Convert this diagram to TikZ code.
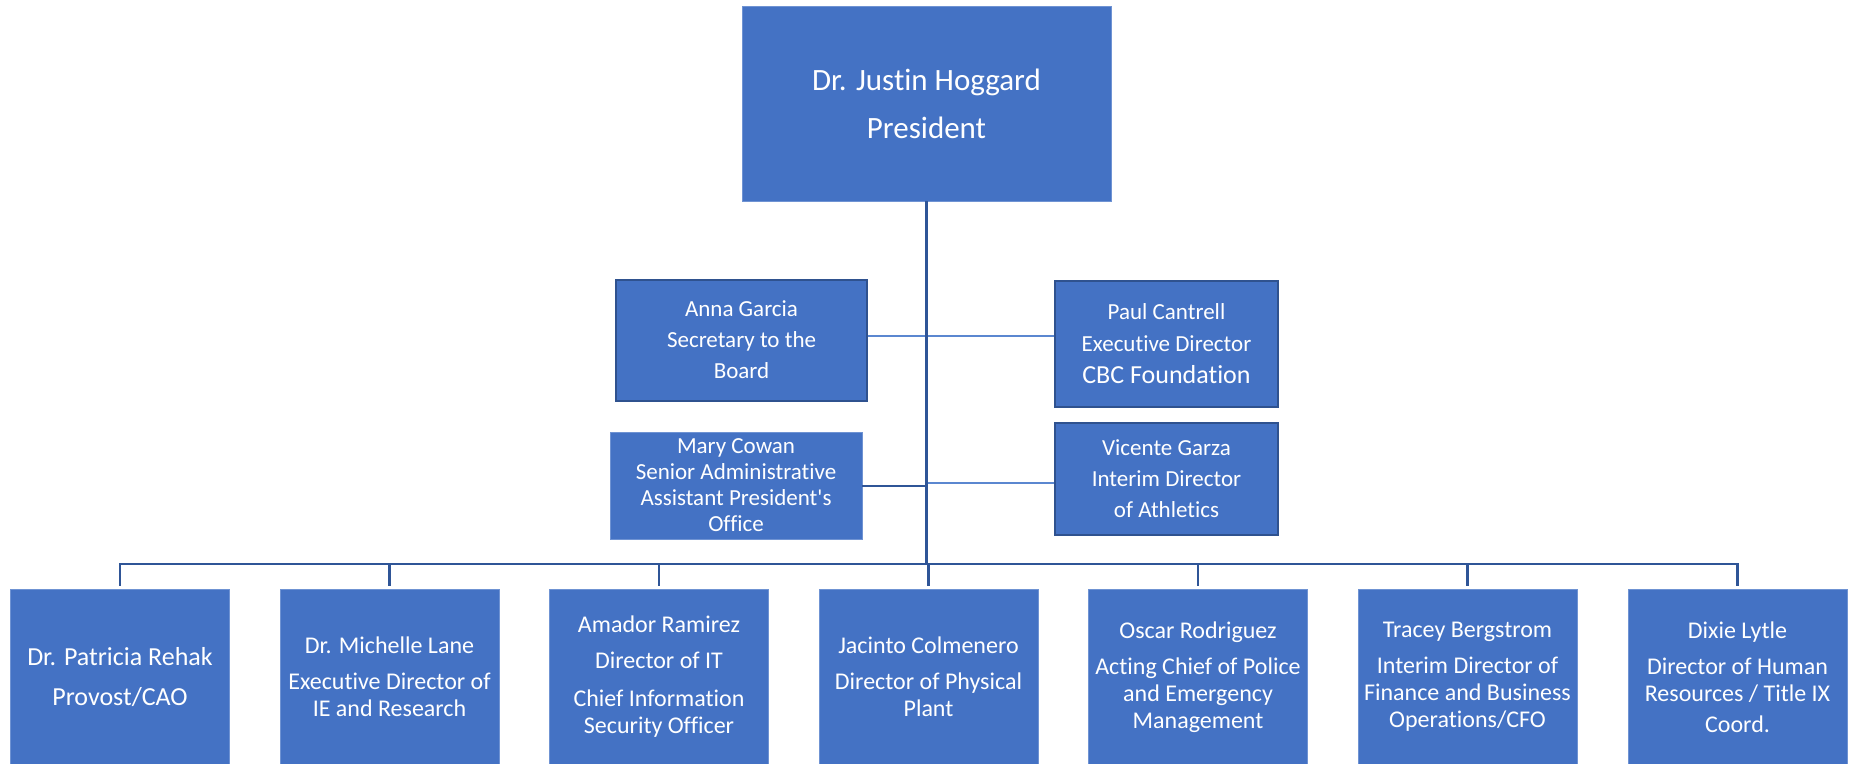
\documentclass[tikz,border=0pt]{standalone}
\usepackage{fontspec}
\setmainfont{Carlito}[Ligatures={NoCommon}]
\newfontfamily\rawcarlito{Carlito}
\definecolor{boxblue}{HTML}{4472C4}
\definecolor{darkedge}{HTML}{2F528F}
\definecolor{lightedge}{HTML}{6F93D3}
\definecolor{linedark}{HTML}{2F5597}
\definecolor{linelight}{HTML}{5B87D0}
\begin{document}
\begin{tikzpicture}[x=1pt,y=-1pt,
  orgbox/.style={draw=lightedge, line width=0.8pt, fill=boxblue, text=white, align=center, inner sep=0pt},
  edgebox/.style={orgbox, draw=darkedge, line width=2pt},
  bottombox/.style={orgbox, minimum width=219pt, minimum height=176pt, font=\fontsize{24}{27}\selectfont},
  trunk/.style={draw=linedark, line width=2.6pt},
  thinline/.style={draw=linelight, line width=1.5pt}
]
\useasboundingbox (0,0) rectangle (1854,763);

\node[orgbox, minimum width=369pt, minimum height=195pt, font=\fontsize{31}{48}\selectfont] (pres) at (926.5,103.5) {Dr. Justin Hoggard\\President};

\node[edgebox, minimum width=251pt, minimum height=121pt, font=\fontsize{23}{31}\selectfont] (anna) at (741.5,340) {Anna Garcia\\Secretary to the\\Board};
\node[edgebox, minimum width=223pt, minimum height=126pt, font=\fontsize{23}{32}\selectfont] (paul) at (1166.5,344) {Paul Cantrell\\Executive Director\\{\fontsize{26}{32}\selectfont CBC Foundation}};
\node[orgbox, minimum width=252pt, minimum height=107pt, font=\fontsize{23}{26}\selectfont] (mary) at (736,485.5) {Mary Cowan\\Senior Administrative\\Assistant President{\rawcarlito '}s\\Office};
\node[edgebox, minimum width=223pt, minimum height=112pt, font=\fontsize{23}{31}\selectfont] (vic) at (1166.5,479) {Vicente Garza\\Interim Director\\of Athletics};

\node[bottombox, font=\fontsize{26}{40}\selectfont] (b1) at (120,677) {Dr. Patricia Rehak\\Provost/CAO};
\node[bottombox] (b2) at (389.5,677) {Dr. Michelle Lane\\[9pt]Executive Director of\\IE and Research};
\node[bottombox] (b3) at (659,677) {Amador Ramirez\\[9pt]Director of IT\\[11pt]Chief Information\\Security Officer};
\node[bottombox] (b4) at (928.5,677) {Jacinto Colmenero\\[9pt]Director of Physical\\Plant};
\node[bottombox] (b5) at (1198,677) {Oscar Rodriguez\\[9pt]Acting Chief of Police\\and Emergency\\Management};
\node[bottombox] (b6) at (1467.5,677) {Tracey Bergstrom\\[9pt]Interim Director of\\Finance and Business\\Operations/CFO};
\node[bottombox] (b7) at (1737.5,677) {Dixie Lytle\\[9pt]Director of Human\\Resources / Title IX\\[4pt]Coord.};

\coordinate (bus) at (927,564);
\coordinate (ap) at (927,336);
\coordinate (mc) at (927,486);
\coordinate (vc) at (927,483);

\draw[thinline] (anna.east |- ap) -- (paul.west |- ap);
\draw[thinline] (vc) -- (vic.west |- vc);
\draw[trunk] (mary.east |- mc) -- (mc);
\draw[trunk] (pres.south) -- (pres.south |- bus);
\draw[trunk, shorten >=3pt, shorten <=3pt] (b1.north) -- (b1.north |- bus) -- (b7.north |- bus) -- (b7.north);
\foreach \b in {b2,b3,b4,b5,b6}
  \draw[trunk, shorten >=3pt] (\b.north |- bus) -- (\b.north);
\end{tikzpicture}
\end{document}
